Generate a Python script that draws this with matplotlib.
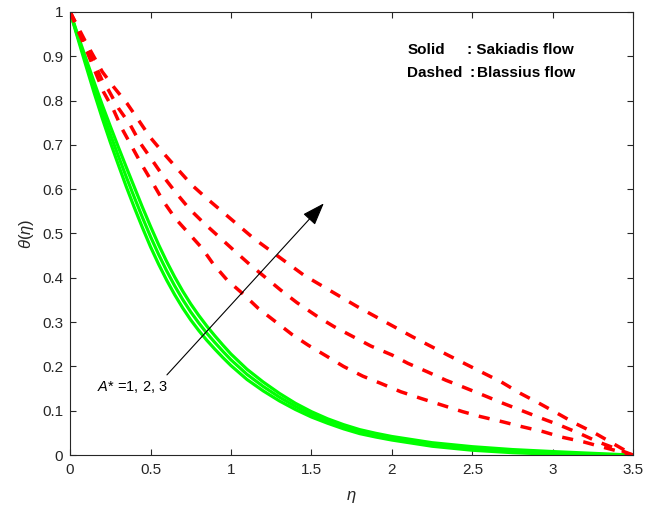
import numpy as np
import matplotlib
matplotlib.use("Agg")
import matplotlib.pyplot as plt
from matplotlib.ticker import FuncFormatter, MultipleLocator

plt.rcParams["font.family"] = ["Liberation Sans", "DejaVu Sans"]
plt.rcParams["mathtext.fontset"] = "custom"
plt.rcParams["mathtext.it"] = "Liberation Sans:italic"
plt.rcParams["mathtext.rm"] = "Liberation Sans"

# Sakiadis flow (solid, green), A* = 1, 2, 3
eta_g = [0, 0.05, 0.1, 0.15, 0.2, 0.25, 0.3, 0.35, 0.4, 0.45, 0.5, 0.55, 0.6,
         0.65, 0.7, 0.75, 0.8, 0.85, 0.9, 0.95, 1.0, 1.1, 1.2, 1.3, 1.4, 1.5,
         1.6, 1.7, 1.8, 1.9, 2.0, 2.25, 2.5, 2.75, 3.0, 3.25, 3.5]
theta_g1 = [1, 0.938, 0.877, 0.817, 0.760, 0.706, 0.655, 0.605, 0.558, 0.513,
            0.470, 0.431, 0.395, 0.362, 0.332, 0.305, 0.281, 0.259, 0.239,
            0.220, 0.202, 0.1705, 0.145, 0.1225, 0.103, 0.086, 0.072, 0.0593,
            0.0485, 0.0408, 0.034, 0.020, 0.011, 0.0055, 0.002, 0, 0]
theta_g2 = [1, 0.942, 0.885, 0.829, 0.775, 0.724, 0.675, 0.627, 0.581, 0.536,
            0.493, 0.453, 0.416, 0.382, 0.351, 0.323, 0.298, 0.275, 0.254,
            0.234, 0.215, 0.182, 0.155, 0.131, 0.110, 0.092, 0.077, 0.064,
            0.053, 0.045, 0.038, 0.024, 0.015, 0.009, 0.005, 0.002, 0]
theta_g3 = [1, 0.946, 0.893, 0.841, 0.790, 0.742, 0.695, 0.649, 0.604, 0.559,
            0.516, 0.475, 0.437, 0.402, 0.370, 0.341, 0.315, 0.291, 0.269,
            0.248, 0.228, 0.1935, 0.165, 0.1395, 0.117, 0.098, 0.082, 0.0687,
            0.0575, 0.0492, 0.042, 0.028, 0.019, 0.0125, 0.008, 0.004, 0]

# Blasius flow (dashed, red), A* = 1, 2, 3
eta_r1 = [0, 0.1, 0.207, 0.27, 0.322, 0.384, 0.446, 0.515, 0.581, 0.654, 0.82,
          0.89, 0.976, 1.08, 1.17, 1.277, 1.38, 1.48, 1.60, 1.70, 1.82, 1.93,
          2.055, 2.18, 2.31, 2.44, 2.55, 2.69, 2.81, 2.94, 3.05, 3.19, 3.30, 3.5]
theta_r1 = [1, 0.915, 0.82, 0.779, 0.737, 0.696, 0.655, 0.613, 0.572, 0.534,
            0.467, 0.431, 0.395, 0.362, 0.331, 0.301, 0.272, 0.248, 0.222, 0.2,
            0.178, 0.162, 0.143, 0.128, 0.113, 0.098, 0.087, 0.075, 0.064,
            0.053, 0.041, 0.03, 0.019, 0]

eta_r2 = [0, 0.1, 0.2, 0.238, 0.30, 0.374, 0.436, 0.509, 0.581, 0.66, 0.743,
          0.83, 1.015, 1.12, 1.31, 1.41, 1.54, 1.64, 1.76, 1.87, 2.0, 2.10,
          2.22, 2.335, 2.44, 2.57, 2.69, 2.81, 2.93, 3.04, 3.16, 3.28, 3.5]
theta_r2 = [1, 0.925, 0.845, 0.824, 0.783, 0.745, 0.704, 0.666, 0.628, 0.591,
            0.555, 0.524, 0.463, 0.429, 0.372, 0.344, 0.312, 0.29, 0.267, 0.246,
            0.226, 0.207, 0.188, 0.169, 0.154, 0.135, 0.117, 0.1, 0.083, 0.068,
            0.05, 0.03, 0]

eta_r3 = [0, 0.1, 0.2, 0.27, 0.353, 0.425, 0.498, 0.581, 0.664, 0.758, 0.85,
          1.141, 1.453, 1.785, 2.128, 2.346, 2.57, 2.68, 2.80, 2.915, 3.03,
          3.14, 3.26, 3.38, 3.5]
theta_r3 = [1, 0.93, 0.865, 0.831, 0.794, 0.756, 0.717, 0.681, 0.647, 0.609,
            0.579, 0.489, 0.406, 0.335, 0.267, 0.226, 0.185, 0.165, 0.139,
            0.117, 0.094, 0.0715, 0.05, 0.025, 0]

fig = plt.figure(figsize=(6.61, 5.16), dpi=100)
ax = fig.add_axes([0.106, 0.118, 0.852, 0.859])

green = "#00ff00"
red = "#ff0000"
for th in (theta_g1, theta_g2, theta_g3):
    ax.plot(eta_g, th, color=green, lw=2.3, solid_joinstyle="round")
for e, th in ((eta_r1, theta_r1), (eta_r2, theta_r2), (eta_r3, theta_r3)):
    ax.plot(e, th, color=red, lw=2.5, dashes=(3.2, 3.0), dash_capstyle="butt")

ax.set_xlim(0, 3.5)
ax.set_ylim(0, 1)
ax.xaxis.set_major_locator(MultipleLocator(0.5))
ax.yaxis.set_major_locator(MultipleLocator(0.1))
fmt = FuncFormatter(lambda v, p: "%g" % round(v, 2))
ax.xaxis.set_major_formatter(fmt)
ax.yaxis.set_major_formatter(fmt)

dark = "#262626"
ax.tick_params(direction="in", length=4, width=0.8, colors=dark,
               labelsize=11, top=True, right=True)
ax.tick_params(axis="x", pad=6)
ax.tick_params(axis="y", pad=5)
for s in ax.spines.values():
    s.set_color(dark)
    s.set_linewidth(0.8)

ax.set_xlabel(r"$\eta$", fontsize=12, color=dark, labelpad=8)
ax.set_ylabel(r"$\theta(\eta)$", fontsize=12, color=dark, labelpad=4)

# arrow showing increasing A*
ax.annotate("", xy=(1.577, 0.568), xytext=(0.602, 0.181),
            arrowprops=dict(arrowstyle="-|>,head_length=1.4,head_width=0.5",
                            color="k", lw=0.8, shrinkA=0, shrinkB=0))
ax.text(0.166, 0.153, r"$A$* =1, 2, 3", fontsize=10.5, va="center", ha="left")

# line style key
ax.text(2.097, 0.914, "Solid", fontsize=11, weight="bold", va="center")
ax.text(2.465, 0.914, ": Sakiadis flow", fontsize=11, weight="bold", va="center")
ax.text(2.097, 0.862, "Dashed", fontsize=11, weight="bold", va="center")
ax.text(2.48, 0.862, ":", fontsize=11, weight="bold", va="center")
ax.text(2.527, 0.862, "Blassius flow", fontsize=11, weight="bold", va="center")

fig.savefig("out.png", dpi=100)
